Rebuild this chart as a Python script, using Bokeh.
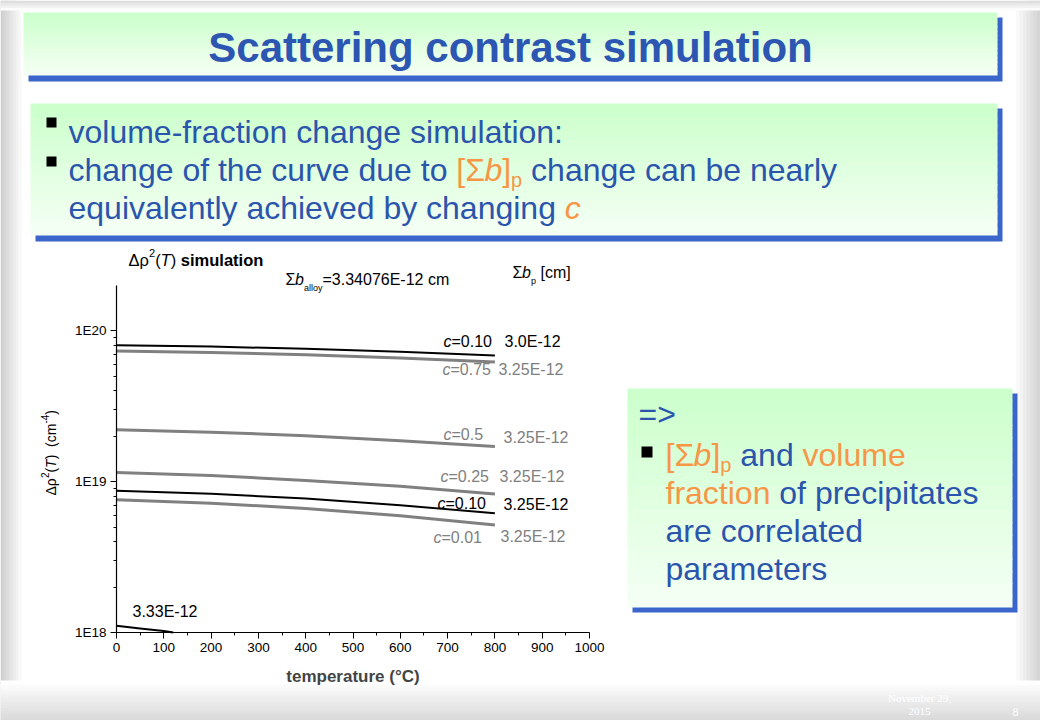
import math
from bokeh.plotting import figure
from bokeh.models import Range1d, FixedTicker, Label, LinearAxis, LogAxis, LogScale
from bokeh.embed import file_html
from bokeh.resources import INLINE

# ---------------- data ----------------
temperature = [0, 200, 400, 600, 800]
rho_c010_b300 = [8.04e19, 7.87e19, 7.61e19, 7.27e19, 6.86e19]
rho_c075_b325 = [7.37e19, 7.20e19, 6.95e19, 6.62e19, 6.23e19]
rho_c050_b325 = [2.21e19, 2.13e19, 2.02e19, 1.87e19, 1.71e19]
rho_c025_b325 = [1.15e19, 1.10e19, 1.02e19, 9.32e18, 8.29e18]
rho_c010_b325 = [8.72e18, 8.32e18, 7.73e18, 6.99e18, 6.17e18]
rho_c001_b325 = [7.60e18, 7.20e18, 6.64e18, 5.95e18, 5.17e18]
temperature_b333 = [0, 50, 100, 120]
rho_b333 = [1.107e18, 1.063e18, 1.022e18, 1.0e18]

c_labels = ["=0.10", "=0.75", "=0.5", "=0.25", "=0.10", "=0.01"]
b_labels = ["3.0E-12", "3.25E-12", "3.25E-12", "3.25E-12", "3.25E-12", "3.25E-12"]
b333_label = "3.33E-12"

x_ticks = [0, 100, 200, 300, 400, 500, 600, 700, 800, 900, 1000]
x_tick_labels = ["0", "100", "200", "300", "400", "500", "600", "700", "800", "900", "1000"]
x_minor = [50, 150, 250, 350, 450, 550, 650, 750, 850, 950]
y_ticks = [1e18, 1e19, 1e20]
y_tick_labels = ["1E18", "1E19", "1E20"]
y_minor = [m * d for d in (1e18, 1e19) for m in range(2, 10)]
T_MIN, T_MAX = 0, 1000
RHO_MIN, RHO_MAX = 1e18, 2e20

# ---------------- styles / layout ----------------
BLUE_T = "#2c56b2"
BLUE = "#2b55ad"
ORANGE = "#f79646"
SHADOW = "#3a66cc"
GRAY = "#808080"
FONT = "Liberation Sans"
W, H = 1040, 720
CH_L, CH_R, CH_T, CH_B = 116, 589, 285, 632   # chart plotting area on the slide (px)
BODY = 32

p = figure(width=W, height=H, min_border=0,
           x_range=Range1d(0, W), y_range=Range1d(H, 0),
           x_axis_location=None, y_axis_location=None,
           output_backend="svg", toolbar_location=None)
p.outline_line_color = None
p.grid.visible = False
p.background_fill_color = "white"
p.border_fill_color = "white"

# chart coordinate system mapped onto the chart area of the slide
px_per_T = (CH_R - CH_L) / (T_MAX - T_MIN)
px_per_dec = (CH_B - CH_T) / math.log10(RHO_MAX / RHO_MIN)
p.extra_x_ranges = {"T": Range1d(T_MIN - CH_L / px_per_T, T_MIN + (W - CH_L) / px_per_T)}
p.extra_y_ranges = {"rho": Range1d(RHO_MIN * 10 ** (-(H - CH_B) / px_per_dec),
                                   RHO_MIN * 10 ** (CH_B / px_per_dec))}
p.extra_y_scales = {"rho": LogScale()}

xaxis = LinearAxis(x_range_name="T", y_range_name="rho", fixed_location=RHO_MIN,
                   bounds=(T_MIN, T_MAX),
                   ticker=FixedTicker(ticks=x_ticks, minor_ticks=x_minor))
yaxis = LogAxis(x_range_name="T", y_range_name="rho", fixed_location=T_MIN,
                bounds=(RHO_MIN, RHO_MAX),
                ticker=FixedTicker(ticks=y_ticks, minor_ticks=y_minor))
xaxis.major_label_overrides = {t: s for t, s in zip(x_ticks, x_tick_labels)}
yaxis.major_label_overrides = {t: s for t, s in zip(y_ticks, y_tick_labels)}
for ax in (xaxis, yaxis):
    ax.axis_line_color = "black"
    ax.axis_line_width = 1.2
    ax.major_tick_line_color = "black"
    ax.minor_tick_line_color = "black"
    ax.major_tick_out = 6
    ax.major_tick_in = 0
    ax.minor_tick_out = 3
    ax.minor_tick_in = 0
    ax.major_label_text_font = FONT
    ax.major_label_text_font_size = "13.5px"
    ax.major_label_text_color = "black"
    ax.major_label_standoff = 4
xaxis.axis_label = "temperature (°C)"
xaxis.axis_label_text_font = FONT
xaxis.axis_label_text_font_size = "17px"
xaxis.axis_label_text_font_style = "bold"
xaxis.axis_label_standoff = 12
p.add_layout(xaxis, "below")
p.add_layout(yaxis, "left")

# ---------------- helpers ----------------
AW = {' ': 278, 'a': 556, 'b': 556, 'c': 500, 'd': 556, 'e': 556, 'f': 278, 'g': 556,
      'h': 556, 'i': 222, 'l': 222, 'm': 833, 'n': 556, 'o': 556, 'p': 556, 'q': 556,
      'r': 333, 's': 500, 't': 278, 'u': 556, 'v': 500, 'y': 500, '[': 278, ']': 278,
      '-': 333, ':': 278, '=': 584, '>': 584, 'Σ': 600, '(': 333, ')': 333, '.': 278,
      'E': 667, 'T': 611, 'C': 722, '°': 400, 'Δ': 668, 'ρ': 575}


def tw(s, size):
    return sum(AW.get(ch, 556) for ch in s) * size / 1000.0


def lab(X, Y, text, color="black", size=16, style="normal", font=FONT,
        align="left", baseline="middle", angle=0.0):
    p.add_layout(Label(x=X, y=Y, text=text, text_color=color, text_font_size=f"{size}px",
                       text_font_style=style, text_font=font, text_align=align,
                       text_baseline=baseline, angle=angle))


def mix(c1, c2, t):
    return "#%02x%02x%02x" % tuple(int(round(a + (b - a) * t)) for a, b in zip(c1, c2))


def rect(X0, Y0, X1, Y1, color, level="underlay"):
    p.quad(left=[X0], right=[X1], top=[Y0], bottom=[Y1], fill_color=color,
           line_color=None, level=level)


def vgrad(X0, Y0, X1, Y1, ctop, cbot, n=14):
    h = (Y1 - Y0) / n
    L, R, T, B, C = [], [], [], [], []
    for i in range(n):
        y0 = Y0 + i * h
        L.append(X0); R.append(X1); T.append(y0); B.append(min(Y1, y0 + h + 1))
        C.append(mix(ctop, cbot, i / (n - 1)))
    p.quad(left=L, right=R, top=T, bottom=B, fill_color=C, line_color=None, level="underlay")


def hgrad(X0, Y0, X1, Y1, cleft, cright, n=10):
    w = (X1 - X0) / n
    L, R, T, B, C = [], [], [], [], []
    for i in range(n):
        x0 = X0 + i * w
        L.append(x0); R.append(min(X1, x0 + w + 1)); T.append(Y0); B.append(Y1)
        C.append(mix(cleft, cright, i / (n - 1)))
    p.quad(left=L, right=R, top=T, bottom=B, fill_color=C, line_color=None, level="underlay")


def run(X, Y, pieces, size):
    for text, color, style, s, dy in pieces:
        s = s or size
        lead = len(text) - len(text.lstrip(" "))
        core = text.strip(" ")
        if core:
            lab(X + tw(" " * lead, s), Y + dy, core, color, s, style)
        X += tw(text, s)


# ---------------- slide background ----------------
hgrad(0, 0, 24, H, (208, 208, 208), (255, 255, 255), 8)
hgrad(1012, 0, W, H, (255, 255, 255), (212, 212, 212), 8)
vgrad(0, 0, W, 10, (222, 222, 222), (252, 252, 252), 4)
vgrad(0, 680, W, H, (255, 255, 255), (218, 218, 218), 16)

GREEN_TOP = (204, 255, 204)
GREEN_BOT = (244, 255, 244)

rect(28, 17, 1002, 81, SHADOW)
vgrad(23, 12, 997, 75, GREEN_TOP, GREEN_BOT)
rect(35, 108, 1002, 241, SHADOW)
vgrad(30, 103, 997, 235, GREEN_TOP, GREEN_BOT, 18)
rect(632, 393, 1017, 612, SHADOW)
vgrad(627, 388, 1012, 607, GREEN_TOP, GREEN_BOT, 18)

rect(46, 117, 56, 127, "black")
rect(46, 156, 56, 166, "black")
rect(641, 446, 652, 457, "black")

# ---------------- data lines ----------------
kw = dict(x_range_name="T", y_range_name="rho")
p.line(temperature, rho_c010_b300, line_color="black", line_width=2, **kw)
p.line(temperature, rho_c075_b325, line_color=GRAY, line_width=3, **kw)
p.line(temperature, rho_c050_b325, line_color=GRAY, line_width=3, **kw)
p.line(temperature, rho_c025_b325, line_color=GRAY, line_width=3, **kw)
p.line(temperature, rho_c010_b325, line_color="black", line_width=2, **kw)
p.line(temperature, rho_c001_b325, line_color=GRAY, line_width=3, **kw)
p.line(temperature_b333, rho_b333, line_color="black", line_width=2, **kw)

# ---------------- slide texts ----------------
lab(510, 47, "Scattering contrast simulation", BLUE_T, 42, "bold", align="center")

run(68, 131, [("volume-fraction change simulation:", BLUE, "normal", None, 0)], BODY)
run(68, 169, [("change of the curve due to ", BLUE, "normal", None, 0),
              ("[Σ", ORANGE, "normal", None, 0),
              ("b", ORANGE, "italic", None, 0),
              ("]", ORANGE, "normal", None, 0),
              ("p", ORANGE, "normal", 20, 10),
              (" change can be nearly", BLUE, "normal", None, 0)], BODY)
run(68, 207, [("equivalently achieved by changing ", BLUE, "normal", None, 0),
              ("c", ORANGE, "italic", None, 0)], BODY)

run(638, 413, [("=>", BLUE, "normal", None, 0)], BODY)
run(665, 454, [("[Σ", ORANGE, "normal", None, 0),
               ("b", ORANGE, "italic", None, 0),
               ("]", ORANGE, "normal", None, 0),
               ("p", ORANGE, "normal", 20, 10),
               (" and ", BLUE, "normal", None, 0),
               ("volume", ORANGE, "normal", None, 0)], BODY)
run(665, 492, [("fraction", ORANGE, "normal", None, 0),
               (" of precipitates", BLUE, "normal", None, 0)], BODY)
run(665, 530, [("are correlated", BLUE, "normal", None, 0)], BODY)
run(665, 568, [("parameters", BLUE, "normal", None, 0)], BODY)

lab(919, 697, "November 29,", "white", 11, "normal", "Liberation Serif", align="center")
lab(919, 711, "2015", "white", 11, "normal", "Liberation Serif", align="center")
lab(1015, 711, "8", "white", 12, "normal", "Liberation Serif", align="center")

# ---------------- chart texts ----------------
run(128, 259, [("Δρ", "black", "normal", None, 0),
               ("2", "black", "normal", 11, -7),
               ("(", "black", "normal", None, 0),
               ("T", "black", "italic", None, 0),
               (")", "black", "normal", None, 0),
               (" simulation", "black", "bold", None, 0)], 16.5)
run(285, 279, [("Σ", "black", "normal", None, 0),
               ("b", "black", "italic", None, 0),
               ("alloy", "black", "normal", 9, 8),
               ("=3.34076E-12 cm", "black", "normal", None, 0)], 16)
run(512, 272, [("Σ", "black", "normal", None, 0),
               ("b", "black", "italic", None, 0),
               ("p", "black", "normal", 9, 8),
               (" [cm]", "black", "normal", None, 0)], 16)

label_pos = [(443, 341, 504, 341, "black"),
             (442, 369, 498, 369, GRAY),
             (443, 434, 503, 437, GRAY),
             (440, 476, 499, 476, GRAY),
             (437, 503, 503, 504, "black"),
             (433, 537, 500, 536, GRAY)]
for (cx, cy, bx, by, col), ct, bt in zip(label_pos, c_labels, b_labels):
    run(cx, cy, [("c", col, "italic", None, 0), (ct, col, "normal", None, 0)], 16)
    lab(bx, by, bt, col, 16)
lab(132, 611, b333_label, "black", 16)

# rotated y-axis title
Y = 495
for text, style, s, dx in [("Δρ", "normal", 14, 0), ("2", "normal", 10, -6),
                           ("(", "normal", 14, 0), ("T", "italic", 14, 0),
                           (")", "normal", 14, 0), ("  (cm", "normal", 14, 0),
                           ("-4", "normal", 10, -6), (")", "normal", 14, 0)]:
    lead = len(text) - len(text.lstrip(" "))
    lab(50 + dx, Y - tw(" " * lead, s), text.strip(" "), "black", s, style,
        angle=math.pi / 2)
    Y -= tw(text, s)

open("out.html", "w").write(file_html(p, INLINE))
